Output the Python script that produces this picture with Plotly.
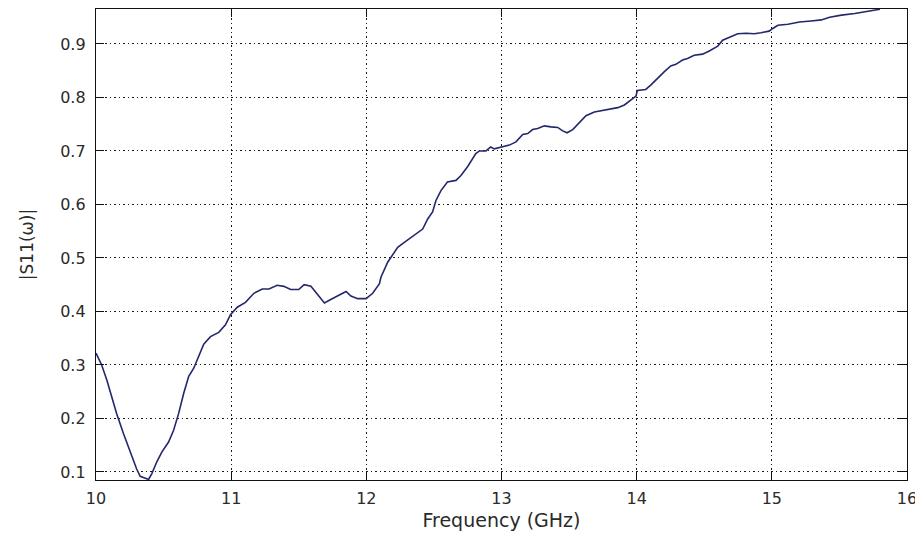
import plotly.graph_objects as go

freq_ghz = [10.0, 10.042, 10.08, 10.116, 10.153, 10.203, 10.252, 10.30, 10.327, 10.389,
            10.413, 10.45, 10.488, 10.537, 10.574, 10.611, 10.649, 10.686, 10.723, 10.76,
            10.797, 10.847, 10.908, 10.958, 10.995, 11.045, 11.106, 11.168, 11.23, 11.28,
            11.34, 11.39, 11.44, 11.50, 11.54, 11.59, 11.64, 11.69, 11.74, 11.80,
            11.85, 11.886, 11.936, 11.998, 12.047, 12.097, 12.108, 12.158, 12.183, 12.232,
            12.281, 12.355, 12.417, 12.454, 12.49, 12.515, 12.552, 12.60, 12.663, 12.70,
            12.75, 12.81, 12.836, 12.885, 12.92, 12.947, 13.009, 13.058, 13.107, 13.157,
            13.194, 13.23, 13.268, 13.317, 13.366, 13.416, 13.453, 13.485, 13.527, 13.576,
            13.625, 13.687, 13.736, 13.798, 13.86, 13.909, 13.958, 13.995, 14.005, 14.067,
            14.104, 14.153, 14.203, 14.252, 14.29, 14.339, 14.376, 14.426, 14.488, 14.537,
            14.60, 14.636, 14.673, 14.71, 14.748, 14.81, 14.87, 14.92, 14.98, 15.007,
            15.045, 15.119, 15.205, 15.29, 15.366, 15.428, 15.515, 15.614, 15.713, 15.80]

s11_mag = [0.322, 0.300, 0.272, 0.241, 0.209, 0.172, 0.1375, 0.106, 0.092, 0.086,
           0.097, 0.119, 0.1375, 0.156, 0.178, 0.209, 0.247, 0.279, 0.294, 0.317,
           0.339, 0.353, 0.361, 0.375, 0.394, 0.408, 0.417, 0.434, 0.442, 0.442,
           0.449, 0.447, 0.441, 0.441, 0.450, 0.447, 0.431, 0.416, 0.423, 0.431,
           0.4375, 0.429, 0.424, 0.424, 0.434, 0.452, 0.464, 0.492, 0.501, 0.520,
           0.529, 0.542, 0.554, 0.573, 0.586, 0.6075, 0.626, 0.642, 0.645, 0.654,
           0.671, 0.695, 0.700, 0.700, 0.7075, 0.704, 0.7075, 0.711, 0.717, 0.731,
           0.7325, 0.740, 0.742, 0.747, 0.745, 0.744, 0.7375, 0.734, 0.740, 0.754,
           0.766, 0.773, 0.775, 0.778, 0.781, 0.786, 0.795, 0.8025, 0.813, 0.815,
           0.823, 0.836, 0.848, 0.859, 0.862, 0.870, 0.873, 0.879, 0.881, 0.887,
           0.896, 0.907, 0.911, 0.915, 0.919, 0.920, 0.919, 0.921, 0.924, 0.929,
           0.935, 0.937, 0.941, 0.943, 0.945, 0.950, 0.954, 0.957, 0.962, 0.965]

x_ticks = [10, 11, 12, 13, 14, 15, 16]
y_ticks = [0.1, 0.2, 0.3, 0.4, 0.5, 0.6, 0.7, 0.8, 0.9]

font_family = "DejaVu Sans, Arial, sans-serif"
text_color = "#2a2a2a"

fig = go.Figure()
fig.add_trace(go.Scatter(x=freq_ghz, y=s11_mag, mode="lines",
                         line=dict(color="#24276b", width=1.6), showlegend=False))

axis_common = dict(
    showline=True, linecolor="#111111", linewidth=1.4, mirror="ticks",
    ticks="inside", ticklen=8, tickwidth=1.4, tickcolor="#111111",
    showgrid=True, gridcolor="#1a1a1a", gridwidth=1.2, griddash="1.5px,3px",
    zeroline=False, ticklabeloverflow="allow",
    tickfont=dict(family=font_family, size=16, color=text_color),
)

# page body has an 8px default margin, so the figure is sized to fill the window from there
fig.update_layout(
    width=915, height=525,
    margin=dict(l=88, r=16, t=1, b=53),
    paper_bgcolor="white", plot_bgcolor="white",
    xaxis=dict(range=[10, 16], tickvals=x_ticks, ticktext=[str(v) for v in x_ticks],
               title=dict(text="Frequency (GHz)", standoff=6,
                          font=dict(family=font_family, size=19, color=text_color)),
               ticklabelstandoff=4,
               **axis_common),
    yaxis=dict(range=[0.085, 0.9654], tickvals=y_ticks, ticktext=[f"{v:.1f}" for v in y_ticks],
               title=dict(text="|S11(ω)|", standoff=22,
                          font=dict(family=font_family, size=17, color=text_color)),
               ticklabelstandoff=6,
               **axis_common),
)

fig.write_html("out.html")
